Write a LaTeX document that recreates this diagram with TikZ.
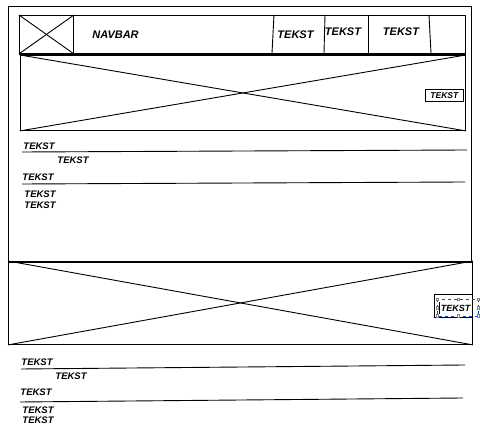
\documentclass[tikz,border=0pt]{standalone}
\usepackage{fontspec}
\setmainfont{Liberation Sans}
\usetikzlibrary{positioning}

\begin{document}
\begin{tikzpicture}[
        x=1pt, y=-1pt,
        line width=0.9pt,
        every node/.style={font=\bfseries\itshape\fontsize{9.5}{10}\selectfont, inner sep=0pt},
        frame/.style={draw, rectangle, anchor=north west},
        txt/.style={anchor=base west},
        navtxt/.style={anchor=base west, font=\bfseries\itshape\fontsize{11}{12}\selectfont},
        tag/.style={draw, rectangle, anchor=north west, line width=0.8pt, font=\bfseries\itshape\fontsize{8.5}{9}\selectfont},
        handle/.style={draw=gray, fill=white, line width=0.4pt, minimum size=2.6pt, inner sep=0pt}
    ]

    \useasboundingbox (0,0) rectangle (480,435);

    \node[frame, minimum width=463pt, minimum height=256pt] (page) at (8,6) {};

    \node[frame, minimum width=446pt, minimum height=38pt] (navbar) at (19,15) {};
    \draw[line width=1.6pt] (navbar.south west) -- (navbar.south east);
    \node[frame, minimum width=54pt, minimum height=38pt] (logo) at (19,15) {};
    \draw (logo.north west) -- (logo.south east);
    \draw (logo.south west) -- (logo.north east);
    \draw (274,15) -- (272,53);
    \draw (325,15) -- (324,53);
    \draw (368,15) -- (368,53);
    \draw (429,15) -- (431,53);

    \node[navtxt] (navlabel) at (92,38.5) {NAVBAR};
    \node[navtxt] (navA) at (277,38.5) {TEKST};
    \node[navtxt] (navB) at (324.5,36) {TEKST};
    \node[navtxt] (navC) at (382.5,36) {TEKST};

    \node[frame, minimum width=445pt, minimum height=75pt] (banner) at (20,55) {};
    \draw (banner.north west) -- (banner.south east);
    \draw (banner.south west) -- (banner.north east);
    \node[tag, minimum width=38pt, minimum height=12pt] (bannertag) at (425,89) {TEKST};

    \node[txt] (headA) at (23,149.5) {TEKST};
    \draw (22,152) -- (467,150);
    \node[txt] (subA) at (57,163.3) {TEKST};
    \node[txt] (headB) at (22,180.5) {TEKST};
    \draw (22,184) -- (465,182);
    \node[txt] (lineA) at (24,198) {TEKST};
    \node[txt] (lineB) at (24,208.5) {TEKST};

    \node[frame, minimum width=464pt, minimum height=83pt] (bannerlow) at (8,261) {};
    \draw (bannerlow.north west) -- (bannerlow.south east);
    \draw (bannerlow.south west) -- (bannerlow.north east);
    \node[frame, fill=white, minimum width=38pt, minimum height=22.5pt] (lowtag) at (434,294.5) {};
    \node[txt, font=\bfseries\itshape\fontsize{9}{10}\selectfont] (lowtext) at (440.5,311.7) {TEKST};
    \draw[line width=0.5pt] (439.5,302) -- (439.5,314);
    \draw[blue!70!cyan, dashed, line width=0.6pt] (437.3,299.3) rectangle (478.3,316);
    \foreach \hx in {437.3,458,478.3} {
        \node[handle] at (\hx,299.3) {};
        \node[handle] at (\hx,316) {};
    }
    \node[handle] at (437.3,308) {};
    \node[handle] at (478.3,308) {};

    \node[txt] (headC) at (21,365.5) {TEKST};
    \draw (21,369) -- (465,365);
    \node[txt] (subC) at (55,380) {TEKST};
    \node[txt] (headD) at (20,395.7) {TEKST};
    \draw (20,402) -- (463,398);
    \node[txt] (lineC) at (22,413.3) {TEKST};
    \node[txt] (lineD) at (22,424) {TEKST};

\end{tikzpicture}
\end{document}
